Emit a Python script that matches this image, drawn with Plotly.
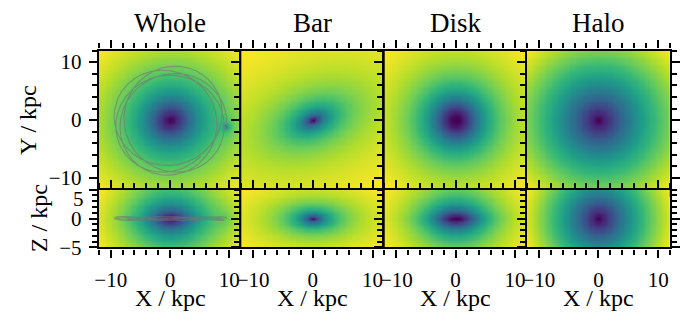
import numpy as np
import plotly.graph_objects as go

G = 4.30091e-6  # kpc (km/s)^2 / Msun

# Potential components
HALO = dict(m=5.4e11, rs=15.62)
DISK = dict(m=6.8e10, a=3.0, b=0.28)
BAR = dict(m=1.8e10, a=3.2, qy=0.62, qz=0.45, angle_deg=22.0)
CLUMP = dict(m=3.5e9, b=0.35, x=9.5, y=-1.1, z=0.0)

# Test-particle orbit (kpc, km/s, kpc/(km/s))
ORBIT_POS = [9.5, -1.1, 0.0]
ORBIT_VEL_FRAC = 0.90
ORBIT_VZ = 18.0
ORBIT_TIME = 0.95
ORBIT_STEPS = 4000

COLUMNS = ["Whole", "Bar", "Disk", "Halo"]
XY_LIM = [-12, 12]
Z_LIM = [-5, 5]
GRID_STEP = 0.2
XY_TICKS = [-10, 0, 10]
Z_TICKS = [-5, 0, 5]

FONT = "Liberation Serif, Times New Roman, Times, serif"
W, H = 680, 323
COL_EDGES = [96, 240, 385, 529, 674]   # px
ROW_TOP = [52.5, 197]                   # px
ROW_BOTTOM = [197, 257]                 # px


def phi_halo(x, y, z):
    r = np.sqrt(x**2 + y**2 + z**2)
    r = np.maximum(r, 1e-6)
    return -G * HALO["m"] * np.log1p(r / HALO["rs"]) / r


def phi_disk(x, y, z):
    zz = DISK["a"] + np.sqrt(z**2 + DISK["b"]**2)
    return -G * DISK["m"] / np.sqrt(x**2 + y**2 + zz**2)


def phi_bar(x, y, z):
    t = np.radians(BAR["angle_deg"])
    xp = x * np.cos(t) + y * np.sin(t)
    yp = -x * np.sin(t) + y * np.cos(t)
    m = np.sqrt(xp**2 + (yp / BAR["qy"])**2 + (z / BAR["qz"])**2)
    return -G * BAR["m"] / (m + BAR["a"])


def phi_clump(x, y, z):
    d2 = (x - CLUMP["x"])**2 + (y - CLUMP["y"])**2 + (z - CLUMP["z"])**2
    return -G * CLUMP["m"] / np.sqrt(d2 + CLUMP["b"]**2)


def phi_whole(x, y, z):
    return phi_bar(x, y, z) + phi_disk(x, y, z) + phi_halo(x, y, z) + phi_clump(x, y, z)


def phi_smooth(x, y, z):
    return phi_disk(x, y, z) + phi_halo(x, y, z)


FIELDS = {"Whole": phi_whole, "Bar": phi_bar, "Disk": phi_disk, "Halo": phi_halo}


def accel(p, h=1e-4):
    a = np.zeros(3)
    for k in range(3):
        dp = np.zeros(3)
        dp[k] = h
        a[k] = -(phi_smooth(*(p + dp)) - phi_smooth(*(p - dp))) / (2 * h)
    return a


def integrate_orbit():
    p = np.array(ORBIT_POS, dtype=float)
    R = np.hypot(p[0], p[1])
    a0 = accel(p)
    vc = np.sqrt(-(a0[0] * p[0] + a0[1] * p[1]))
    tang = np.array([-p[1], p[0], 0.0]) / R
    v = ORBIT_VEL_FRAC * vc * tang + np.array([0.0, 0.0, ORBIT_VZ])
    dt = ORBIT_TIME / ORBIT_STEPS
    out = np.empty((ORBIT_STEPS + 1, 3))
    out[0] = p
    a = accel(p)
    for i in range(ORBIT_STEPS):
        v = v + 0.5 * dt * a
        p = p + dt * v
        a = accel(p)
        v = v + 0.5 * dt * a
        out[i + 1] = p
    return out


orbit = integrate_orbit()

gx = np.arange(XY_LIM[0], XY_LIM[1] + GRID_STEP / 2, GRID_STEP)
gz = np.arange(Z_LIM[0], Z_LIM[1] + GRID_STEP / 2, GRID_STEP)
XX, YY = np.meshgrid(gx, gx)
XZx, XZz = np.meshgrid(gx, gz)

fig = go.Figure()
layout = {}


def px_x(v):
    return v / W


def px_y(v):
    return 1 - v / H


axis_common = dict(
    showline=True, linecolor="black", linewidth=2.3, mirror="ticks",
    ticks="outside", ticklen=8, tickwidth=2, tickcolor="black",
    showgrid=False, zeroline=False,
    tickfont=dict(family=FONT, size=21, color="black"),
)


def minor(step):
    return dict(ticks="outside", ticklen=5, tickwidth=1.5, tickcolor="black",
                dtick=step, tick0=0)


for i, name in enumerate(COLUMNS):
    fn = FIELDS[name]
    top, bot = i + 1, i + 5
    xdom = [px_x(COL_EDGES[i]), px_x(COL_EDGES[i + 1])]

    fig.add_trace(go.Heatmap(
        x=gx, y=gx, z=fn(XX, YY, 0.0), colorscale="Viridis", showscale=False,
        zsmooth="best", hoverinfo="skip",
        xaxis="x" if top == 1 else f"x{top}", yaxis="y" if top == 1 else f"y{top}"))
    fig.add_trace(go.Heatmap(
        x=gx, y=gz, z=fn(XZx, 0.0, XZz), colorscale="Viridis", showscale=False,
        zsmooth="best", hoverinfo="skip", xaxis=f"x{bot}", yaxis=f"y{bot}"))

    for n, ydom, is_bottom in [(top, [px_y(ROW_TOP[1]), px_y(ROW_TOP[0])], False),
                               (bot, [px_y(ROW_BOTTOM[1]), px_y(ROW_BOTTOM[0])], True)]:
        xa = "xaxis" if n == 1 else f"xaxis{n}"
        ya = "yaxis" if n == 1 else f"yaxis{n}"
        layout[xa] = dict(axis_common, domain=xdom, range=XY_LIM,
                          anchor="y" if n == 1 else f"y{n}",
                          tickmode="array", tickvals=XY_TICKS,
                          showticklabels=is_bottom, ticklabelstandoff=4,
                          minor=minor(2))
        if is_bottom:
            layout[ya] = dict(axis_common, domain=ydom, range=Z_LIM,
                              anchor=f"x{n}", tickmode="array", tickvals=Z_TICKS,
                              ticktext=["\u22125", "0", ""],
                              showticklabels=(i == 0), ticklabelstandoff=3,
                              minor=minor(1))
        else:
            layout[ya] = dict(axis_common, domain=ydom, range=XY_LIM,
                              anchor="x" if n == 1 else f"x{n}",
                              tickmode="array", tickvals=XY_TICKS,
                              showticklabels=(i == 0), ticklabelstandoff=3,
                              minor=minor(2))

orbit_line = dict(color="rgba(115,115,115,0.6)", width=1.1)
fig.add_trace(go.Scatter(x=orbit[:, 0], y=orbit[:, 1], mode="lines", line=orbit_line,
                         hoverinfo="skip", xaxis="x", yaxis="y"))
fig.add_trace(go.Scatter(x=orbit[:, 0], y=orbit[:, 2], mode="lines", line=orbit_line,
                         hoverinfo="skip", xaxis="x5", yaxis="y5"))

annotations = []
for i, name in enumerate(COLUMNS):
    cx = px_x((COL_EDGES[i] + COL_EDGES[i + 1]) / 2)
    annotations.append(dict(text=name, x=cx, y=px_y(24), xref="paper", yref="paper",
                            showarrow=False, xanchor="center", yanchor="middle",
                            font=dict(family=FONT, size=27, color="black")))
    annotations.append(dict(text="X / kpc", x=cx, y=px_y(309.5), xref="paper", yref="paper",
                            showarrow=False, xanchor="center", yanchor="middle",
                            font=dict(family=FONT, size=24, color="black")))
annotations.append(dict(text="Y / kpc", x=px_x(25), y=px_y(125), xref="paper", yref="paper",
                        textangle=-90, showarrow=False, xanchor="center", yanchor="middle",
                        font=dict(family=FONT, size=24, color="black")))
annotations.append(dict(text="Z / kpc", x=px_x(35), y=px_y(227), xref="paper", yref="paper",
                        textangle=-90, showarrow=False, xanchor="center", yanchor="middle",
                        font=dict(family=FONT, size=24, color="black")))
annotations.append(dict(text="5", x=px_x(83), y=Z_TICKS[2], xref="paper", yref="y5",
                        yshift=-9, showarrow=False, xanchor="right", yanchor="middle",
                        font=dict(family=FONT, size=21, color="black")))

fig.update_layout(
    width=W, height=H, autosize=False, margin=dict(l=0, r=0, t=0, b=0),
    paper_bgcolor="white", plot_bgcolor="white", showlegend=False,
    annotations=annotations, **layout)

fig.write_html("out.html")
